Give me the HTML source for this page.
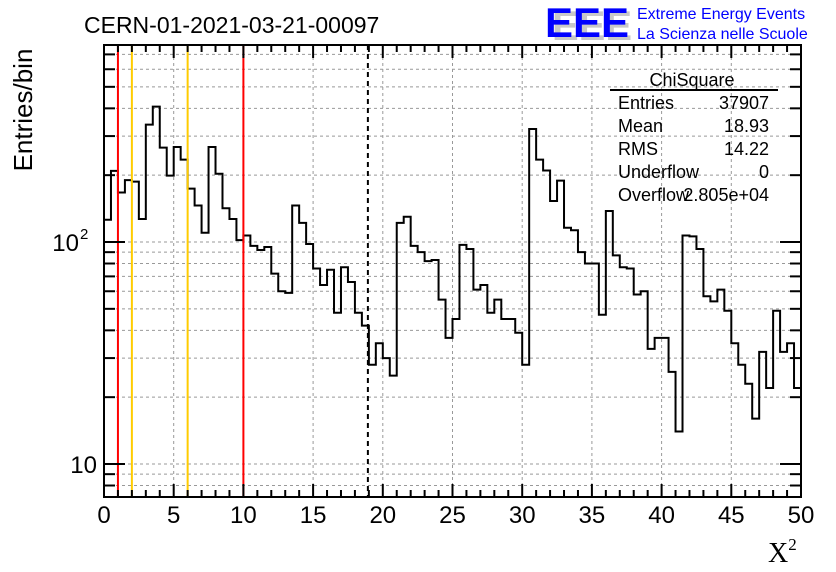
<!DOCTYPE html>
<html><head><meta charset="utf-8"><style>
html,body{margin:0;padding:0;background:#fff;}
svg{display:block;font-family:"Liberation Sans",sans-serif;}
</style></head><body>
<svg id="c" width="836" height="572">
<g id="grid"></g>
<g id="marks"></g>
<g id="axes"></g>
<text x="84" y="33" font-size="23">CERN-01-2021-03-21-00097</text>
<g>
<text x="552" y="40" font-size="42" font-weight="bold" fill="#c8c8c8" textLength="80" lengthAdjust="spacingAndGlyphs">EEE</text>
<text x="545" y="37" font-size="42" font-weight="bold" fill="#0000ff" textLength="84" lengthAdjust="spacingAndGlyphs">EEE</text>
<text x="637" y="19" font-size="16" fill="#0000ff">Extreme Energy Events</text>
<text x="637" y="39" font-size="16" fill="#0000ff">La Scienza nelle Scuole</text>
</g>
<text transform="translate(32,110) rotate(-90)" text-anchor="middle" font-size="26">Entries/bin</text>
<text x="768" y="562" font-size="28" font-family="Liberation Serif,serif">X<tspan font-size="17" dy="-12">2</tspan></text>
<g>
<text x="692" y="86" text-anchor="middle" font-size="18">ChiSquare</text>
<line x1="610" y1="90" x2="778" y2="90" stroke="#000" stroke-width="2"/>
<text x="618" y="109" font-size="18">Entries</text><text x="769" y="109" font-size="18" text-anchor="end">37907</text>
<text x="618" y="132" font-size="18">Mean</text><text x="769" y="132" font-size="18" text-anchor="end">18.93</text>
<text x="618" y="155" font-size="18">RMS</text><text x="769" y="155" font-size="18" text-anchor="end">14.22</text>
<text x="618" y="178" font-size="18">Underflow</text><text x="769" y="178" font-size="18" text-anchor="end">0</text>
<text x="618" y="201" font-size="18">Overflow</text><text x="769" y="201" font-size="18" text-anchor="end">2.805e+04</text>
</g>
</svg>
<script>
const counts=[126,209,167,190,187,127,338,407,266,199,268,235,174,146,110,268,203,142,127,102,
107,96,92,95,72,60,59,146,122,98,76,64,75,48,77,66,48,42,28,35,
30,25,122,130,96,90,82,83,55,37,45,97,93,61,64,48,55,45,45,39,
28,323,235,210,153,189,116,113,90,80,80,47,138,87,77,76,58,60,33,37,
37,26,14,107,106,93,57,54,61,49,35,28,23,16,32,22,49,32,35,22];
const xTicks=[0,5,10,15,20,25,30,35,40,45,50];
const yMajor=[10,100];
const yMinor=[8,9,20,30,40,50,60,70,80,90,200,300,400,500,600,700];
const redLines=[1,10];
const orangeLines=[2,6];
const meanLine=[18.93];
const binWidth=0.5;
const L=104,R=801,T=45,B=497;
const xs=v=>L+(v/50)*(R-L);
const ys=v=>242-(Math.log10(v)-2)*222;
const NS="http://www.w3.org/2000/svg";
function mk(p,tag,attrs){const e=document.createElementNS(NS,tag);for(const k in attrs)e.setAttribute(k,attrs[k]);p.appendChild(e);return e;}
const grid=document.getElementById('grid'),marks=document.getElementById('marks'),axes=document.getElementById('axes');
yMajor.concat(yMinor).forEach(v=>{
 const l=mk(grid,'line',{x1:L,x2:R,y1:ys(v),y2:ys(v),stroke:'#999','stroke-dasharray':'3,3','stroke-width':1});
 
 
});
xTicks.forEach(v=>{
 if(v===0||v===50)return;
 const l=mk(grid,'line',{x1:xs(v),x2:xs(v),y1:T,y2:B,stroke:'#999','stroke-dasharray':'3,3','stroke-width':1});
 
 
});
let d='';
counts.forEach((c,i)=>{const x0=xs(i*binWidth),x1=xs((i+1)*binWidth),y=ys(c);d+=(i===0?`M${x0},${y}`:`L${x0},${y}`)+`L${x1},${y}`;});
const h=mk(marks,'path',{d:d,fill:'none',stroke:'#000','stroke-width':2});


redLines.forEach(v=>{const l=mk(marks,'line',{x1:xs(v),x2:xs(v),y1:T,y2:B,stroke:'#ff0000','stroke-width':2});
 
 });
orangeLines.forEach(v=>{const l=mk(marks,'line',{x1:xs(v),x2:xs(v),y1:T,y2:B,stroke:'#ffcc00','stroke-width':2});
 
 });
meanLine.forEach(v=>{const l=mk(marks,'line',{x1:xs(v),x2:xs(v),y1:T,y2:B,stroke:'#000','stroke-width':2,'stroke-dasharray':'5,4'});
 
 });
const f=mk(axes,'rect',{x:L,y:T,width:R-L,height:B-T,fill:'none',stroke:'#000','stroke-width':2});


for(let v=0;v<=50;v++){
 const len=v%5===0?13:7;
 mk(axes,'line',{x1:xs(v),x2:xs(v),y1:B,y2:B-len,stroke:'#000','stroke-width':2});
 mk(axes,'line',{x1:xs(v),x2:xs(v),y1:T,y2:T+len,stroke:'#000','stroke-width':2});
}
xTicks.forEach(v=>{const t=mk(axes,'text',{x:xs(v),y:523,'text-anchor':'middle','font-size':24});t.textContent=v;
 
 });
yMajor.forEach(v=>{
 mk(axes,'line',{x1:L,x2:L+21,y1:ys(v),y2:ys(v),stroke:'#000','stroke-width':2});
 mk(axes,'line',{x1:R,x2:R-21,y1:ys(v),y2:ys(v),stroke:'#000','stroke-width':2});
});
yMinor.forEach(v=>{
 mk(axes,'line',{x1:L,x2:L+11,y1:ys(v),y2:ys(v),stroke:'#000','stroke-width':2});
 mk(axes,'line',{x1:R,x2:R-11,y1:ys(v),y2:ys(v),stroke:'#000','stroke-width':2});
});
const t10=mk(axes,'text',{x:97,y:ys(10)+9,'text-anchor':'end','font-size':24});t10.textContent='10';


const t100=mk(axes,'text',{x:79,y:ys(100)+9,'text-anchor':'end','font-size':24});t100.textContent='10';


const e2=mk(axes,'text',{x:80,y:ys(100)-3,'font-size':15});e2.textContent='2';


</script>
</body></html>
